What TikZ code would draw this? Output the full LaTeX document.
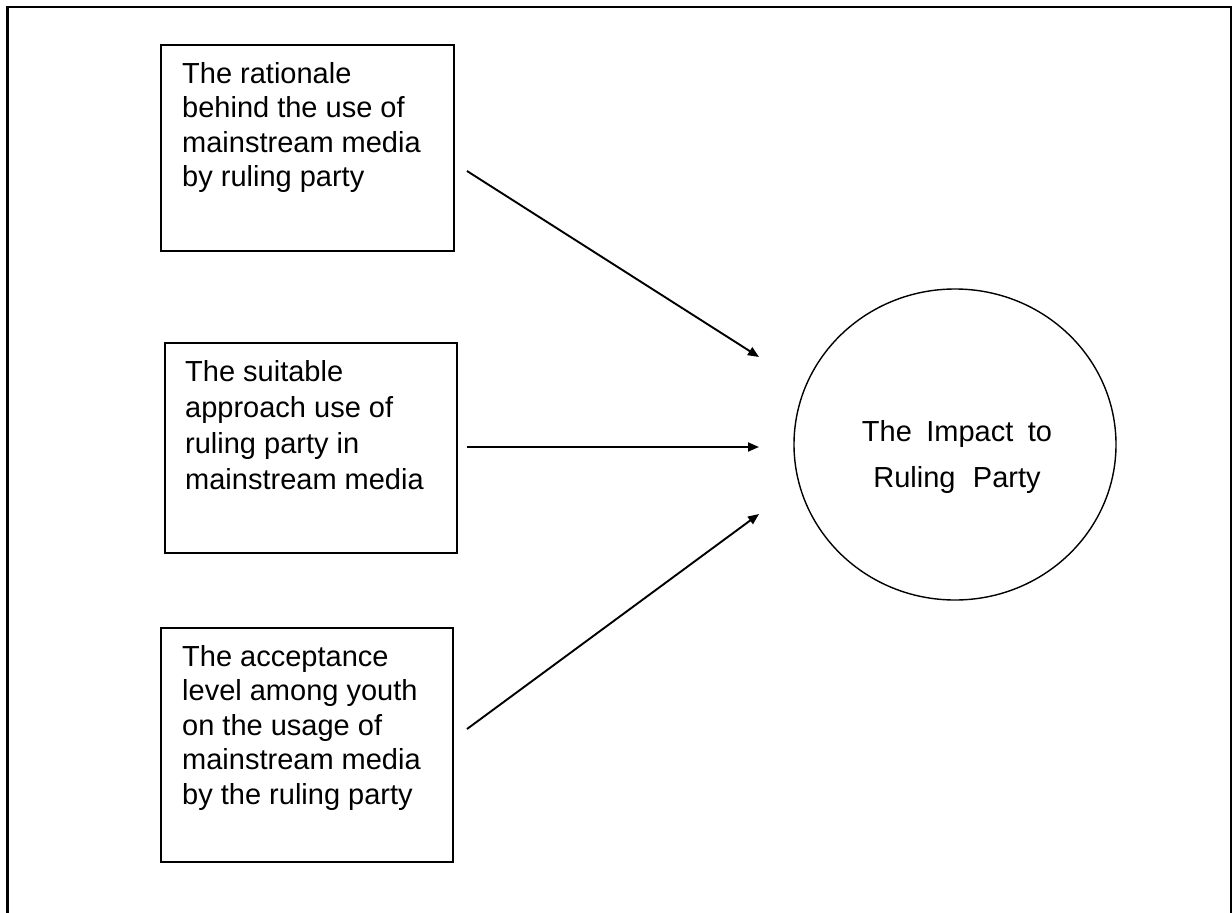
\documentclass[tikz,border=0pt]{standalone}
\usepackage{fontspec}
\setmainfont{Liberation Sans}
\usetikzlibrary{arrows.meta,shapes.geometric}
\tikzset{
  boxnode/.style={draw, line width=1.7pt, anchor=north west, inner sep=0pt},
  boxtext/.style={anchor=north west, inner sep=0pt, align=left, font=\fontsize{29}{34.5}\selectfont},
  flow/.style={line width=1.9pt, -{Triangle[length=11pt,width=9pt]}},
  frame/.style={line width=2.2pt}
}
\begin{document}
\begin{tikzpicture}[x=1pt,y=-1pt]
\useasboundingbox (0,0) rectangle (1232,913);
\clip (0,0) rectangle (1232,913);
\fill[white] (0,0) rectangle (1232,913);
% outer frame (open at the bottom)
\draw[frame] (7.5,930) -- (7.5,6.7) -- (1230.8,6.7) -- (1230.8,930);
% boxes
\node[boxnode, minimum width=293pt, minimum height=206pt] (b1) at (160,44) {};
\node[boxnode, minimum width=292pt, minimum height=210pt] (b2) at (164,342) {};
\node[boxnode, minimum width=292pt, minimum height=234pt] (b3) at (160,627) {};
% texts
\node[boxtext] (t1) at (182,62) {The rationale\\behind the use of\\mainstream media\\by ruling party};
\node[boxtext, font=\fontsize{29}{36}\selectfont] (t2) at (185,360) {The suitable\\approach use of\\ruling party in\\mainstream media};
\node[boxtext] (t3) at (182,645) {The acceptance\\level among youth\\on the usage of\\mainstream media\\by the ruling party};
% circle
\node[draw, ellipse, line width=1.4pt, minimum width=322pt, minimum height=311pt, inner sep=0pt] (c) at (955,444.5) {};
\node[anchor=north, inner sep=0pt, align=center, font=\fontsize{29}{46}\selectfont] (ct) at (957,420) {{\spaceskip=0.5em\relax The Impact to}\\{\spaceskip=0.6em\relax Ruling Party}};
% arrow ends
\coordinate (s1) at (467,171);
\coordinate (e1) at (759,357);
\coordinate (s2) at (467,447);
\coordinate (e2) at (759,447);
\coordinate (s3) at (467,729);
\coordinate (e3) at (759,514);
\draw[flow] (s1) -- (e1);
\draw[flow] (s2) -- (e2);
\draw[flow] (s3) -- (e3);
\end{tikzpicture}
\end{document}
